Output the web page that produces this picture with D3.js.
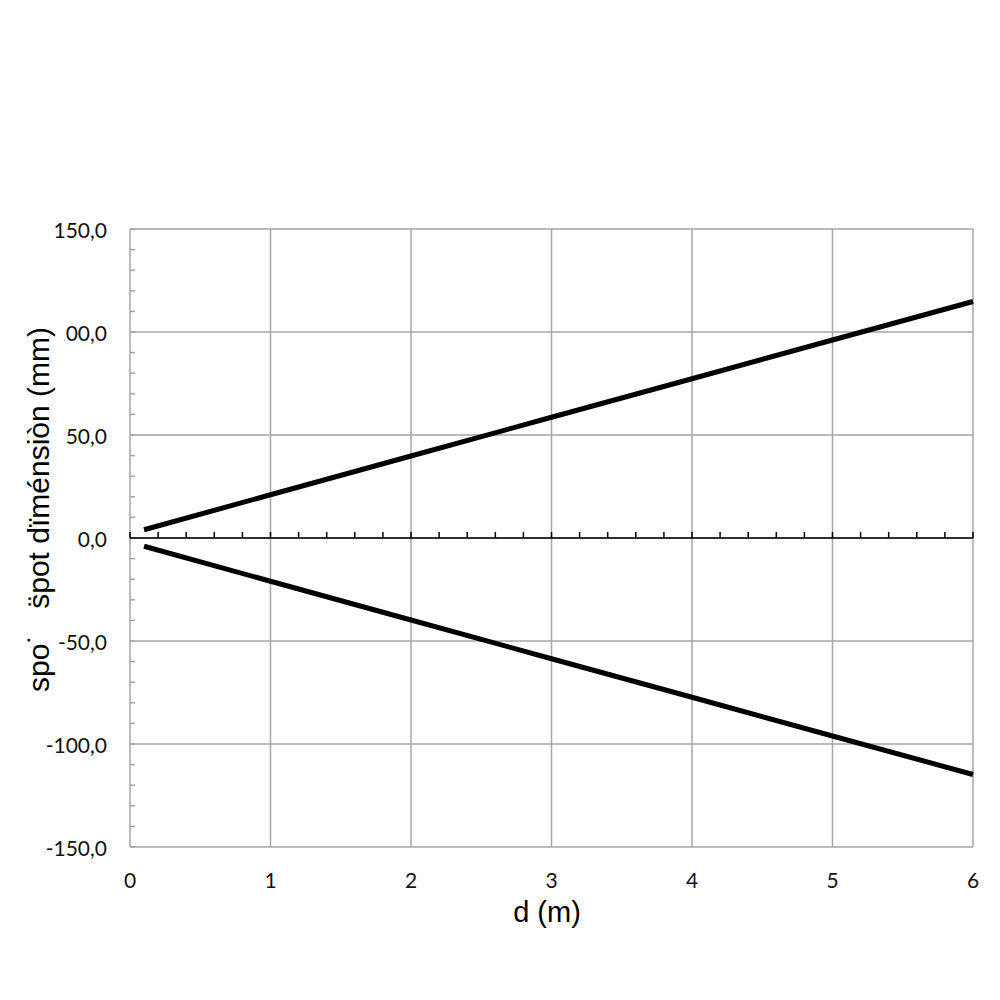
<!DOCTYPE html>
<html>
<head>
<meta charset="utf-8">
<script src="https://cdn.jsdelivr.net/npm/d3@7"></script>
<style>
  body { margin: 0; background: #fff; }
  .tick-label { font-family: Lato, "DejaVu Sans", sans-serif; font-size: 21px; fill: #111; }
  .title { font-family: "Liberation Sans", Arial, sans-serif; font-size: 29px; fill: #000; }
  .ytitle { font-family: "Liberation Sans", Arial, sans-serif; font-size: 30px; fill: #000; }
</style>
</head>
<body>
<div id="chart"></div>
<script>
(function () {
    "use strict";

    // distance (m) and spot half-size (mm)
    var distances = [0.1, 1, 2, 3, 4, 5, 6];
    var upperEdge = [4.0, 21.0, 39.8, 58.6, 77.3, 96.1, 114.8];
    var lowerEdge = [-4.0, -21.0, -39.8, -58.6, -77.3, -96.1, -114.8];

    var xTicks = [0, 1, 2, 3, 4, 5, 6];
    var xTickLabels = ["0", "1", "2", "3", "4", "5", "6"];
    var yTicks = [150, 100, 50, 0, -50, -100, -150];
    var yTickLabels = ["150,0", "100,0", "50,0", "0,0", "-50,0", "-100,0", "-150,0"];

    var width = 1000, height = 1000;
    var left = 130, right = 973, top = 229, bottom = 847;

    var svg = d3.select("#chart").append("svg")
        .attr("width", width)
        .attr("height", height);

    var x = d3.scaleLinear().domain([0, 6]).range([left, right]);
    var y = d3.scaleLinear().domain([-150, 150]).range([bottom, top]);

    var grid = svg.append("g").attr("stroke", "#a6a6a6").attr("stroke-width", 1.5);

    // horizontal grid
    grid.selectAll("line.h").data(yTicks).enter().append("line")
        .attr("x1", left).attr("x2", right)
        .attr("y1", function (d) { return y(d); })
        .attr("y2", function (d) { return y(d); });

    // vertical grid
    grid.selectAll("line.v").data(xTicks).enter().append("line")
        .attr("y1", top).attr("y2", bottom)
        .attr("x1", function (d) { return x(d); })
        .attr("x2", function (d) { return x(d); });

    // minor ticks on the left axis, every 10
    grid.selectAll("line.m").data(d3.range(-150, 151, 10)).enter().append("line")
        .attr("x1", left).attr("x2", left + 5)
        .attr("y1", function (d) { return y(d); })
        .attr("y2", function (d) { return y(d); });

    // horizontal axis at zero
    var axis = svg.append("g").attr("stroke", "#000").attr("stroke-width", 1.5);
    axis.append("line")
        .attr("x1", left).attr("x2", right)
        .attr("y1", y(0)).attr("y2", y(0));
    axis.selectAll("line.t").data(d3.range(0, 31).map(function (i) { return i / 5; }))
        .enter().append("line")
        .attr("x1", function (d) { return x(d); })
        .attr("x2", function (d) { return x(d); })
        .attr("y1", y(0)).attr("y2", y(0) - 6);

    // the two edges of the spot
    var line = d3.line()
        .x(function (d) { return x(d[0]); })
        .y(function (d) { return y(d[1]); });

    [upperEdge, lowerEdge].forEach(function (vals) {
        svg.append("path")
            .datum(d3.zip(distances, vals))
            .attr("d", line)
            .attr("fill", "none")
            .attr("stroke", "#000")
            .attr("stroke-width", 5);
    });

    // tick labels
    svg.selectAll("text.yl").data(yTicks).enter().append("text")
        .attr("class", "tick-label")
        .attr("x", 107)
        .attr("y", function (d) { return y(d) + 9; })
        .attr("text-anchor", "end")
        .text(function (d, i) { return yTickLabels[i]; });

    svg.selectAll("text.xl").data(xTicks).enter().append("text")
        .attr("class", "tick-label")
        .attr("x", function (d) { return x(d); })
        .attr("y", 888)
        .attr("text-anchor", "middle")
        .text(function (d, i) { return xTickLabels[i]; });

    // axis titles
    svg.append("text")
        .attr("class", "title")
        .attr("x", 547).attr("y", 922)
        .attr("text-anchor", "middle")
        .text("d (m)");

    // the y title box hides part of the "100,0" label
    svg.append("rect")
        .attr("x", 15).attr("y", 322)
        .attr("width", 49).attr("height", 280)
        .attr("fill", "#fff");

    svg.append("text")
        .attr("class", "ytitle")
        .attr("transform", "translate(49,692) rotate(-90)")
        .text("spo\u02d9");

    svg.append("text")
        .attr("class", "ytitle")
        .attr("transform", "translate(49,327) rotate(-90)")
        .attr("text-anchor", "end")
        .text("s\u0308pot d\u00efm\u00e9nsi\u00f2n (mm)");
}());
</script>
</body>
</html>
